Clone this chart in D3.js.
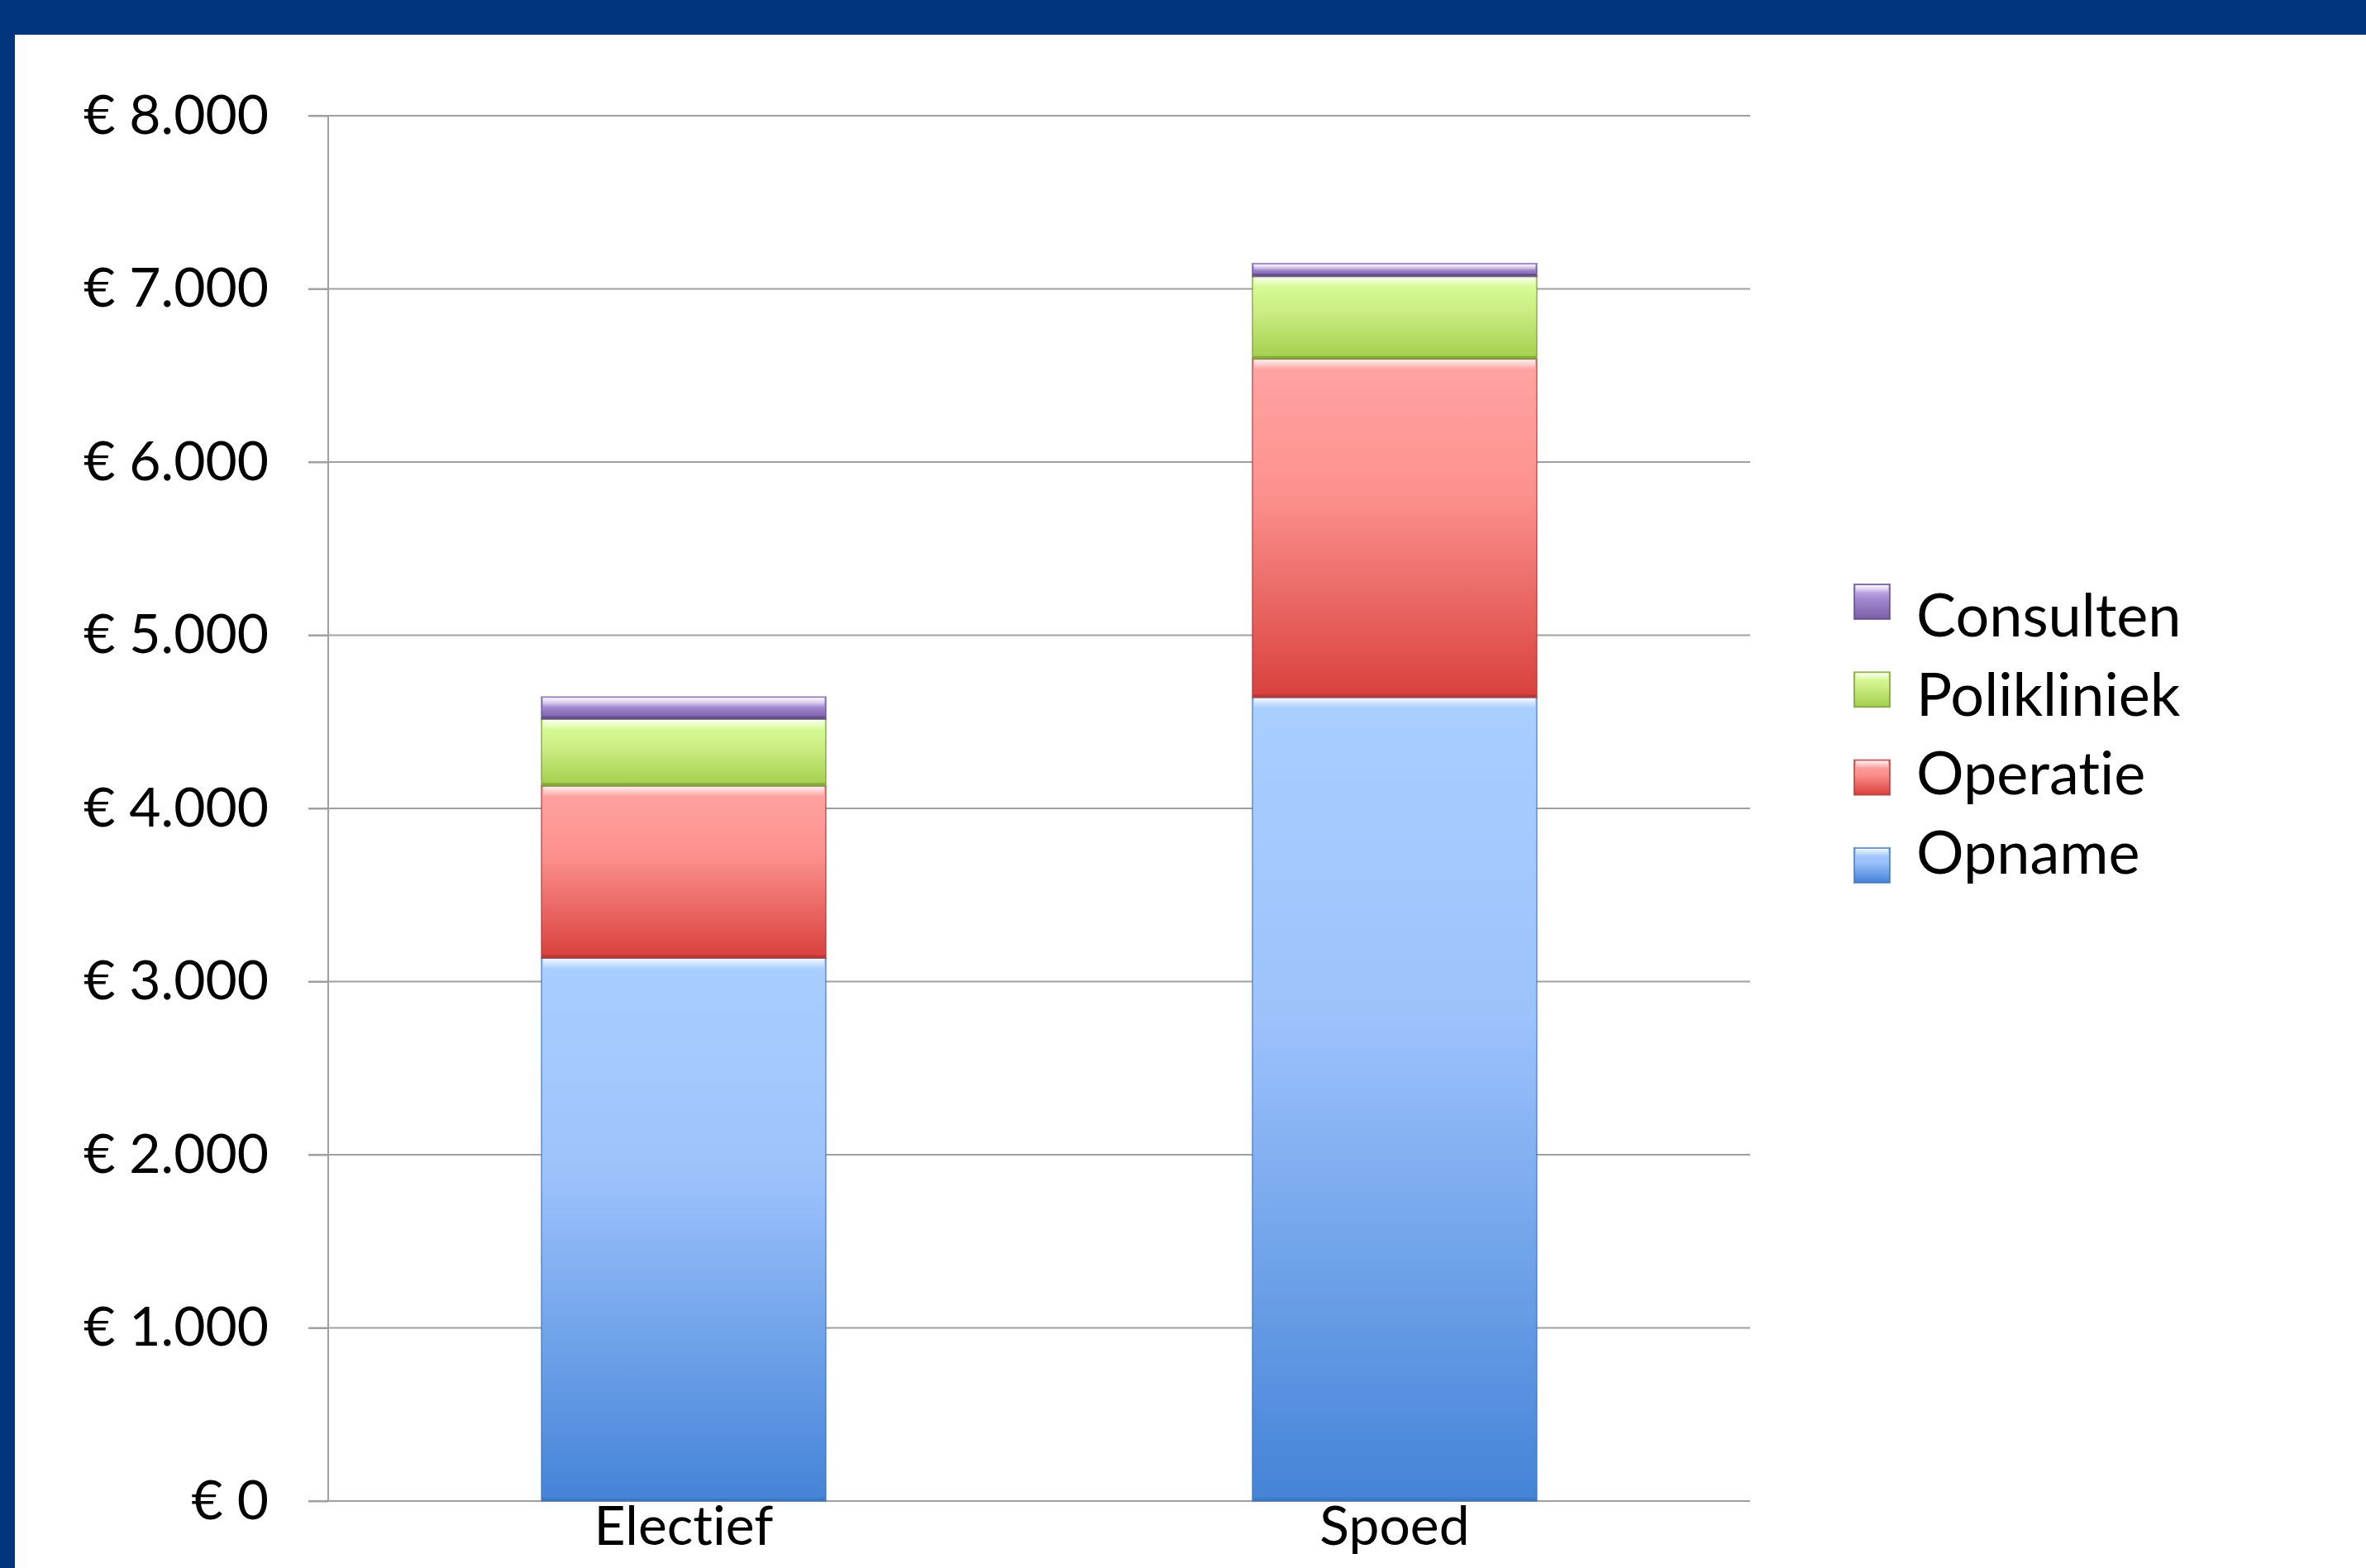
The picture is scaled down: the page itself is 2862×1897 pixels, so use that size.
<!DOCTYPE html>
<html>
<head>
<meta charset="utf-8">
<script src="https://cdn.jsdelivr.net/npm/d3@7"></script>
<style>
    body { margin: 0; background: #fff; }
    text { font-family: Lato, "Open Sans", sans-serif; fill: #000; font-variant-ligatures: none; font-feature-settings: "liga" 0, "clig" 0; }
</style>
</head>
<body>
<div id="chart"></div>
<script>

// values (euro)
var categories = ["Electief", "Spoed"];
var opname = [3136, 4641];
var operatie = [994, 1955];
var polikliniek = [386, 476];
var consulten = [127, 74];

var seriesKeys = ["Opname", "Operatie", "Polikliniek", "Consulten"];
var legendOrder = ["Consulten", "Polikliniek", "Operatie", "Opname"];
var yTicks = [0, 1000, 2000, 3000, 4000, 5000, 6000, 7000, 8000];

var seriesColors = {
    Opname:      { light: "#a9cfff", mid: "#9cc2fc", dark: "#4483d7", edge: "#3a6fb5" },
    Operatie:    { light: "#ffa4a2", mid: "#fc918e", dark: "#d9413d", edge: "#a8322f" },
    Polikliniek: { light: "#dcff9b", mid: "#cdee85", dark: "#a3ce4c", edge: "#6f9232" },
    Consulten:   { light: "#dcc4fa", mid: "#a48bd0", dark: "#7a5ea6", edge: "#574380" }
};

var width = 2862,
    height = 1897,
    margin = {top: 140, right: 745, bottom: 81, left: 397},
    innerW = width - margin.left - margin.right,
    innerH = height - margin.top - margin.bottom;

var rows = categories.map(function(c, i) {
    return {cat: c, Opname: opname[i], Operatie: operatie[i], Polikliniek: polikliniek[i], Consulten: consulten[i]};
});

var svg = d3.select("#chart").append("svg")
    .attr("width", width)
    .attr("height", height);

// slide frame
svg.append("rect").attr("x", 0).attr("y", 0).attr("width", width).attr("height", 42).attr("fill", "#03347e");
svg.append("rect").attr("x", 0).attr("y", 0).attr("width", 18).attr("height", height).attr("fill", "#03347e");

var defs = svg.append("defs");

seriesKeys.forEach(function(k) {
    var c = seriesColors[k];
    var g = defs.append("linearGradient")
        .attr("id", "grad-" + k)
        .attr("x1", 0).attr("y1", 0).attr("x2", 0).attr("y2", 1);
    g.append("stop").attr("offset", "0%").attr("stop-color", c.light);
    g.append("stop").attr("offset", "40%").attr("stop-color", c.mid);
    g.append("stop").attr("offset", "100%").attr("stop-color", c.dark);
});

var hl = defs.append("linearGradient")
    .attr("id", "top-hl")
    .attr("x1", 0).attr("y1", 0).attr("x2", 0).attr("y2", 1);
hl.append("stop").attr("offset", "0%").attr("stop-color", "#fff").attr("stop-opacity", 0.85);
hl.append("stop").attr("offset", "100%").attr("stop-color", "#fff").attr("stop-opacity", 0);

var x = d3.scaleBand()
    .domain(categories)
    .range([0, innerW])
    .paddingInner(0.6)
    .paddingOuter(0.3);

var y = d3.scaleLinear()
    .domain([0, 8000])
    .range([innerH, 0]);

var nl = d3.formatLocale({decimal: ",", thousands: ".", grouping: [3], currency: ["€ ", ""]});
var euro = nl.format("$,");

var g = svg.append("g")
    .attr("transform", "translate(" + margin.left + "," + margin.top + ")");

// gridlines
g.append("g")
    .selectAll("line")
    .data(yTicks)
    .enter()
    .append("line")
    .attr("x1", -24)
    .attr("x2", innerW)
    .attr("y1", function(d) { return y(d); })
    .attr("y2", function(d) { return y(d); })
    .attr("stroke", "#a0a0a0")
    .attr("stroke-width", 2);

var yAxis = g.append("g")
    .call(d3.axisLeft(y).tickValues(yTicks).tickFormat(euro).tickSize(24).tickPadding(48));
yAxis.select(".domain").attr("stroke", "#a0a0a0").attr("stroke-width", 2).attr("d", "M0," + innerH + "V0");
yAxis.selectAll(".tick line").attr("stroke", "#a0a0a0").attr("stroke-width", 2);
yAxis.selectAll("text").attr("font-size", 66).attr("font-family", "Lato, sans-serif").attr("fill", "#000");

var stacked = d3.stack().keys(seriesKeys)(rows);

var layers = g.selectAll(".layer")
    .data(stacked)
    .enter()
    .append("g")
    .attr("class", "layer");

var segs = layers.selectAll("g")
    .data(function(s) { return s.map(function(d) { return {key: s.key, d: d}; }); })
    .enter()
    .append("g");

segs.append("rect")
    .attr("x", function(o) { return x(o.d.data.cat); })
    .attr("y", function(o) { return y(o.d[1]); })
    .attr("width", x.bandwidth())
    .attr("height", function(o) { return y(o.d[0]) - y(o.d[1]); })
    .attr("fill", function(o) { return "url(#grad-" + o.key + ")"; })
    .attr("stroke", function(o) { return seriesColors[o.key].edge; })
    .attr("stroke-opacity", 0.55)
    .attr("stroke-width", 2);

// bevel highlight along the top of each segment
segs.append("rect")
    .attr("x", function(o) { return x(o.d.data.cat) + 2; })
    .attr("y", function(o) { return y(o.d[1]) + 1; })
    .attr("width", x.bandwidth() - 4)
    .attr("height", function(o) { return Math.min(12, (y(o.d[0]) - y(o.d[1])) / 2); })
    .attr("fill", "url(#top-hl)");

// darker lower edge
segs.append("line")
    .attr("x1", function(o) { return x(o.d.data.cat) + 1; })
    .attr("x2", function(o) { return x(o.d.data.cat) + x.bandwidth() - 1; })
    .attr("y1", function(o) { return y(o.d[0]) - 2; })
    .attr("y2", function(o) { return y(o.d[0]) - 2; })
    .attr("stroke", function(o) { return seriesColors[o.key].edge; })
    .attr("stroke-opacity", 0.6)
    .attr("stroke-width", 3);

var xAxis = g.append("g")
    .attr("transform", "translate(0," + innerH + ")")
    .call(d3.axisBottom(x).tickSize(0).tickPadding(6));
xAxis.select(".domain").remove();
xAxis.selectAll("text").attr("font-size", 66).attr("font-family", "Lato, sans-serif").attr("fill", "#000");

// legend
var legend = svg.append("g")
    .selectAll("g")
    .data(legendOrder)
    .enter()
    .append("g");

legend.append("rect")
    .attr("x", 2243)
    .attr("y", function(d, i) { return 707 + i * 106.3; })
    .attr("width", 43)
    .attr("height", 42)
    .attr("fill", function(d) { return "url(#grad-" + d + ")"; })
    .attr("stroke", function(d) { return seriesColors[d].edge; })
    .attr("stroke-opacity", 0.7)
    .attr("stroke-width", 2);

legend.append("rect")
    .attr("x", 2245)
    .attr("y", function(d, i) { return 708 + i * 106.3; })
    .attr("width", 39)
    .attr("height", 9)
    .attr("fill", "url(#top-hl)");

legend.append("text")
    .attr("x", 2318)
    .attr("y", function(d, i) { return 770 + i * 95.5; })
    .attr("font-size", 72)
    .text(function(d) { return d; });

</script>
</body>
</html>
